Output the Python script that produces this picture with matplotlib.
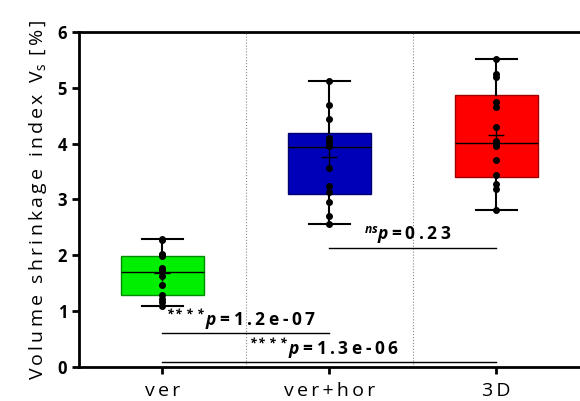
import matplotlib.pyplot as plt

plt.rcParams['font.family'] = ['Open Sans', 'DejaVu Sans']
plt.rcParams['mathtext.fontset'] = 'custom'
plt.rcParams['mathtext.rm'] = 'Open Sans'
plt.rcParams['mathtext.it'] = 'Open Sans:italic'
plt.rcParams['mathtext.bf'] = 'Open Sans:bold'
plt.rcParams['mathtext.bfit'] = 'Open Sans:italic:bold'

groups = ['ver', 'ver+hor', '3D']
colors = ['#00ee00', '#0000b8', '#ff0000']
edges = ['#008a00', '#000070', '#a00000']

pts_ver = [2.30, 2.28, 2.03, 2.00, 1.98, 1.77, 1.74, 1.63, 1.46, 1.29, 1.22, 1.16, 1.10]
pts_verhor = [5.12, 4.70, 4.44, 4.11, 4.05, 4.01, 3.95, 3.57, 3.25, 3.14, 2.96, 2.70, 2.56]
pts_3d = [5.52, 5.24, 5.20, 4.75, 4.66, 4.30, 4.05, 4.01, 3.95, 3.70, 3.44, 3.27, 3.18, 2.82]

# box stats
q1 = [1.28, 3.09, 3.40]
med = [1.70, 3.94, 4.01]
q3 = [1.99, 4.20, 4.87]
whislo = [1.10, 2.56, 2.82]
whishi = [2.30, 5.12, 5.52]
means = [1.69, 3.76, 4.15]

# significance brackets
pairs = [(0, 1), (0, 2), (1, 2)]
levels = [0.60, 0.08, 2.13]
stars = ['****', '****', 'ns']
pvals = ['1.2e-07', '1.3e-06', '0.23']


def spaced(s):
    return '\u2009'.join(s)


fig = plt.figure(figsize=(5.8, 4.01), dpi=100)
ax = fig.add_axes([0.136, 0.085, 0.864, 0.835])

stats = []
for i in range(3):
    stats.append(dict(q1=q1[i], med=med[i], q3=q3[i], whislo=whislo[i],
                      whishi=whishi[i], mean=means[i], fliers=[]))

bp = ax.bxp(stats, positions=[0, 1, 2], widths=0.5, patch_artist=True,
            showmeans=True, showfliers=False,
            meanprops=dict(marker='+', markersize=12, markeredgecolor='black',
                           markeredgewidth=1),
            medianprops=dict(color='black', linewidth=1),
            whiskerprops=dict(color='black', linewidth=1.5),
            capprops=dict(color='black', linewidth=1.5),
            capwidths=0.25)
for patch, c, e in zip(bp['boxes'], colors, edges):
    patch.set_facecolor(c)
    patch.set_edgecolor(e)
    patch.set_linewidth(1)

for i, pts in enumerate([pts_ver, pts_verhor, pts_3d]):
    ax.plot([i] * len(pts), pts, 'o', color='black', markersize=4, zorder=5)

for xs in [0.5, 1.5]:
    ax.axvline(xs, color='#888888', linestyle=':', linewidth=0.8, zorder=0)

for (a, b), y, s, p in zip(pairs, levels, stars, pvals):
    ax.plot([a, b], [y, y], color='black', linewidth=1)
    label = r'$^{\mathbfit{' + s + r'}}\mathbfit{p}$' + '\u2009' + spaced('=' + p)
    ax.text((a + b) / 2 - 0.03, y + 0.03, label, ha='center', va='bottom',
            fontsize=12.5, fontweight='bold')

ax.set_xlim(-0.5, 2.5)
ax.set_ylim(0, 6)
ax.set_xticks([0, 1, 2])
ax.set_xticklabels([spaced(g) for g in groups], fontsize=14)
ax.set_yticks(range(7))
ax.set_yticklabels([str(v) for v in range(7)], fontsize=12, fontweight='bold')
ax.tick_params(axis='both', width=2, length=5)
ax.tick_params(axis='x', pad=6)
for side in ['left', 'bottom', 'top']:
    ax.spines[side].set_linewidth(2)
ax.spines['right'].set_visible(False)

ax.set_ylabel(spaced('Volume shrinkage index V') + r'$_\mathregular{s}$' + '\u2009 ' + spaced('[%]'),
              fontsize=14, labelpad=6)

plt.savefig('out.png', dpi=100)
